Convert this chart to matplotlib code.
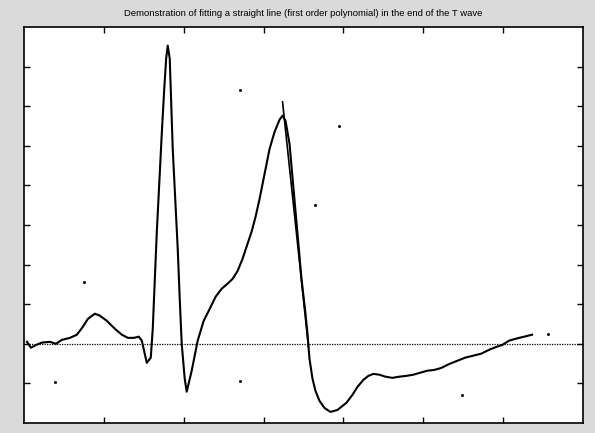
import matplotlib
matplotlib.use("Agg")
import matplotlib.pyplot as plt

# ECG beat
ecg_x = [3.75, 8.75, 15, 22.5, 32.5, 40, 47.5, 57.5, 66.25, 73.75, 80, 88.75, 95, 103.75,
         113.75, 122.5, 130, 137.5, 143.75, 147.5, 153.75, 158.75, 161.25, 163.75, 166.25,
         169.5, 172.5, 175.5, 178, 180, 182.5, 186.25, 188.75, 192.5, 195, 197.5, 201.25,
         203.75, 210, 217.5, 225, 232.5, 240, 247.5, 255, 261.25, 267.5, 273.75, 280, 285,
         290, 295, 301.25, 307.5, 313.75, 320, 323.75, 327.5, 332.5, 337.5, 342.5, 347.5,
         352.5, 355, 357.5, 361.25, 365, 370, 376.25, 383.75, 392.5, 403.75, 411.25, 417.5,
         425, 431.25, 437.5, 445, 452.5, 461.25, 470, 478.75, 487.5, 496.25, 505, 513.75,
         522.5, 532.5, 542.5, 552.5, 562.5, 572.5, 582.5, 591.25, 598.75, 607.5, 616.25,
         626.25, 636.25]
ecg_y = [0.05, -0.10, -0.03, 0.03, 0.05, 0.0, 0.10, 0.15, 0.23, 0.43, 0.63, 0.76, 0.71, 0.58,
         0.38, 0.23, 0.15, 0.15, 0.18, 0.08, -0.48, -0.35, 0.38, 1.60, 2.80,
         4.10, 5.30, 6.40, 7.20, 7.53, 7.20, 4.92, 3.91, 2.40, 1.14, 0.0, -0.88,
         -1.21, -0.68, 0.08, 0.58, 0.88, 1.19, 1.39, 1.52, 1.64, 1.84, 2.15, 2.53, 2.83,
         3.21, 3.66, 4.29, 4.92, 5.35, 5.66, 5.76, 5.63, 5.05, 3.91, 2.78, 1.64,
         0.76, 0.25, -0.38, -0.88, -1.19, -1.44, -1.62, -1.72, -1.67, -1.49, -1.29, -1.09,
         -0.91, -0.81, -0.76, -0.78, -0.83, -0.86, -0.83, -0.81, -0.78, -0.73, -0.68, -0.66,
         -0.61, -0.51, -0.43, -0.35, -0.30, -0.25, -0.15, -0.08, -0.03, 0.08, 0.13,
         0.18, 0.23]

# fitted straight line at the end of the T wave
fit_x = [323.75, 356.25]
fit_y = [6.11, -0.08]

# baseline
base_y = 0.0

# scan specks
speck_x = [270, 395, 365, 75, 39, 270, 548, 656]
speck_y = [6.4, 5.5, 3.5, 1.57, -0.96, -0.94, -1.3, 0.25]

x_ticks = [100, 200, 300, 400, 500, 600]
y_ticks = [-1, 0, 1, 2, 3, 4, 5, 6, 7]

fig = plt.figure(figsize=(5.95, 4.33), dpi=100, facecolor='#dadada')
ax = fig.add_axes([24/595, 10/433, 559/595, 396/433])
ax.set_facecolor('white')

ax.axhline(base_y, color='black', lw=0.9, ls=(0, (1, 1)))
ax.plot(ecg_x, ecg_y, color='black', lw=1.5)
ax.plot(fit_x, fit_y, color='black', lw=1.2)
ax.plot(speck_x, speck_y, ls='none', marker='s', ms=1.0, color='black')

ax.set_xlim(0, 700)
ax.set_ylim(-2, 8)
ax.set_xticks(x_ticks)
ax.set_yticks(y_ticks)
ax.tick_params(direction='in', length=4, width=1, top=True, right=True,
               labelbottom=False, labelleft=False)
for s in ax.spines.values():
    s.set_linewidth(1.2)

ax.set_title('Demonstration of fitting a straight line (first order polynomial) in the end of the T wave',
             fontsize=6.8, family='Liberation Sans', pad=8)

fig.savefig('out.png', dpi=100, facecolor=fig.get_facecolor())
